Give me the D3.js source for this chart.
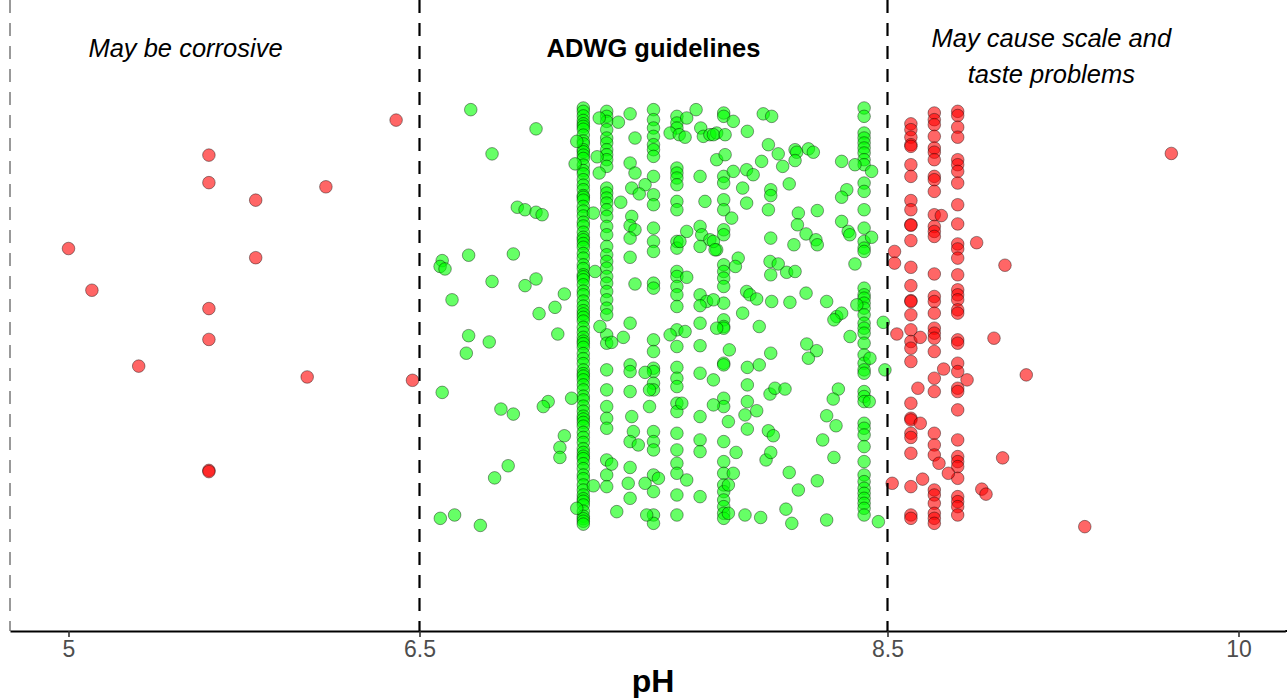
<!DOCTYPE html>
<html>
<head>
<meta charset="utf-8">
<script src="https://cdn.jsdelivr.net/npm/d3@7"></script>
<style>
  body { margin: 0; background: #fff; }
  text { font-family: "Liberation Sans", Arial, Helvetica, sans-serif; }
</style>
</head>
<body>
<script>
// pH readings that pile up on a few reported values (stacked columns)
const columnPH = [7.2, 7.3, 7.5, 7.6, 7.8, 8.4, 8.6, 8.7, 8.8];
// vertical jitter of every point in each column (0 = bottom of band, 100 = top)
const columnJitter = [
  [100, 99.2, 98.1, 97.0, 96.2, 95.6, 94.9, 93.5, 92.1, 91.4, 90.0, 89.5, 88.7, 87.9, 86.3, 85.0, 84.2, 82.8, 81.5, 80.4,
   79.0, 78.6, 77.9, 76.4, 75.3, 74.1, 72.6, 71.7, 70.2, 69.0, 68.4, 67.5, 66.6, 65.1, 64.0, 62.4, 61.5, 60.0, 59.5, 58.8,
   57.6, 56.1, 55.2, 53.7, 52.5, 51.4, 50.6, 49.8, 48.9, 47.4, 46.2, 45.0, 44.1, 43.5, 42.6, 41.1, 39.9, 38.7, 37.2, 36.3,
   35.7, 34.8, 33.6, 32.4, 30.9, 30.0, 28.5, 27.3, 26.1, 25.4, 24.6, 23.7, 22.2, 21.0, 19.8, 18.3, 17.4, 16.5, 15.9, 14.7,
   13.5, 12.0, 11.1, 9.6, 8.4, 7.2, 6.3, 5.7, 4.8, 3.3, 2.1, 1.5, 0.9, 0.2],
  [99.2, 98.0, 96.8, 94.8, 92.8, 91.6, 90.0, 88.8, 87.6, 86.0, 80.8, 79.6, 78.4, 77.2, 75.6, 74.0, 71.6, 69.6, 66.8, 64.8,
   63.2, 61.6, 59.6, 58.0, 56.0, 54.0, 52.0, 50.4, 45.6, 43.6, 37.2, 32.4, 28.4, 25.6, 23.2, 15.6, 12.0, 9.2],
  [99.6, 97.2, 95.2, 93.2, 91.2, 90.0, 88.4, 83.6, 79.2, 76.8, 71.2, 68.0, 65.6, 58.0, 56.8, 44.4, 41.6, 37.6, 36.8, 34.0,
   32.4, 22.4, 20.0, 18.0, 12.0, 8.0, 2.4, 0.4],
  [98.0, 96.4, 95.2, 85.6, 84.4, 83.2, 81.6, 77.6, 75.6, 68.0, 66.4, 60.8, 59.6, 57.2, 55.2, 52.4, 46.8, 42.8, 37.8, 35.2,
   33.2, 29.2, 27.2, 22.0, 18.0, 14.8, 12.4, 7.2, 2.4],
  [98.8, 98.0, 83.6, 82.0, 78.0, 75.6, 70.8, 69.6, 62.4, 60.8, 59.2, 57.2, 53.2, 49.2, 47.6, 47.2, 38.8, 38.4, 30.4, 28.4,
   20.0, 15.2, 12.4, 9.6, 8.0, 6.0, 4.4, 2.8, 1.6],
  [100, 98.0, 94.0, 92.8, 91.6, 90.4, 89.2, 87.6, 86.4, 82.0, 80.0, 75.6, 71.2, 68.0, 66.4, 65.6, 56.8, 55.2, 54.4, 53.2,
   52.0, 50.4, 48.4, 47.2, 46.0, 43.6, 40.8, 38.8, 37.2, 36.4, 32.0, 30.8, 29.6, 24.4, 23.2, 21.6, 18.8, 15.2, 12.0, 10.4,
   8.8, 7.6, 6.4, 5.2, 4.0, 2.4],
  [96.2, 94.8, 93.0, 91.2, 90.8, 86.4, 83.6, 77.8, 75.6, 72.0, 71.9, 68.2, 61.8, 57.4, 53.8, 53.6, 50.4, 46.8, 44.0, 42.4,
   39.2, 29.2, 25.6, 25.2, 22.0, 21.0, 17.2, 9.2, 2.4, 1.6],
  [98.8, 97.2, 96.0, 93.2, 90.4, 89.4, 87.6, 83.6, 82.8, 80.0, 74.4, 71.6, 70.4, 69.2, 60.2, 54.8, 53.6, 50.8, 47.2, 46.0,
   44.8, 41.6, 35.2, 32.0, 22.0, 19.2, 16.8, 8.4, 7.2, 5.2, 2.8, 1.6, 0.4],
  [99.2, 98.2, 95.4, 93.0, 87.6, 86.4, 84.8, 82.0, 76.8, 72.2, 67.4, 66.2, 64.0, 60.0, 56.4, 55.2, 54.0, 51.6, 50.8, 44.4,
   43.6, 38.8, 36.8, 32.8, 32.0, 27.6, 20.4, 16.4, 15.2, 14.0, 11.2, 6.8, 5.6, 4.4, 2.4]
];

// single readings below 6.5: [pH, jitter]
const scatterLow = [
  [6.40, 97.1], [5.6, 88.7], [5.6, 82.1], [6.1, 81.1], [5.8, 77.9], [5.0, 66.3], [5.8, 64.1], [5.1, 56.3],
  [5.6, 51.9], [5.6, 44.5], [5.3, 38.1], [6.02, 35.5], [6.47, 34.7], [5.6, 13.1], [5.6, 12.8]
];

// single readings inside 6.5 - 8.5
const scatterMid = [
  [6.719, 99.6], [6.998, 95.0], [6.810, 89.0], [6.918, 76.2], [6.951, 75.6], [6.998, 75.0], [7.024, 74.4], [6.597, 63.4],
  [6.588, 62.0], [6.609, 61.4], [6.710, 64.7], [6.901, 65.0], [6.810, 58.4], [6.951, 57.4], [6.998, 59.0], [6.639, 54.0],
  [7.119, 55.4], [7.079, 52.2], [7.011, 50.7], [7.172, 92.0], [7.165, 86.6], [6.710, 45.4], [6.798, 43.9], [6.700, 41.2],
  [7.091, 45.8], [6.597, 31.8], [6.848, 27.8], [6.901, 26.6], [7.050, 29.6], [7.029, 28.4], [7.150, 30.4], [7.119, 21.4],
  [7.100, 18.6], [7.100, 16.2], [6.879, 14.2], [6.821, 11.3], [6.589, 1.6], [6.650, 2.4], [6.760, -0.1], [7.172, 4.0],
  [7.400, 98.6], [7.350, 96.6], [7.268, 97.6], [7.421, 92.8], [7.259, 88.3], [7.268, 84.4], [7.400, 86.8], [7.421, 84.4],
  [7.464, 81.6], [7.407, 80.8], [7.439, 79.4], [7.360, 77.4], [7.243, 74.8], [7.407, 74.0], [7.400, 71.8], [7.421, 70.8],
  [7.400, 68.8], [7.400, 64.2], [7.250, 60.8], [7.421, 57.8], [7.571, 94.0], [7.610, 93.6], [7.635, 93.0], [7.642, 97.6],
  [7.682, 99.6], [7.702, 95.2], [7.713, 93.2], [7.741, 93.6], [7.770, 94.0], [7.699, 83.6], [7.720, 77.6], [7.642, 70.4],
  [7.699, 71.6], [7.706, 69.6], [7.741, 68.4], [7.770, 66.0], [7.699, 66.8], [7.613, 68.0], [7.642, 59.4], [7.699, 55.2],
  [7.727, 53.6], [7.699, 52.6], [7.770, 87.6], [7.400, 48.4], [7.371, 45.0], [7.321, 43.8], [7.271, 47.6], [7.400, 38.4],
  [7.400, 36.8], [7.464, 36.6], [7.483, 32.4], [7.483, 28.4], [7.400, 32.0], [7.407, 26.0], [7.414, 22.4], [7.400, 20.0],
  [7.435, 19.2], [7.571, 45.6], [7.635, 46.4], [7.621, 29.2], [7.642, 10.8], [7.699, 48.4], [7.699, 43.0], [7.699, 36.4],
  [7.756, 34.8], [7.699, 26.0], [7.756, 28.8], [7.699, 20.4], [7.699, 17.6], [7.699, 6.8], [7.770, 47.2], [7.243, 9.4],
  [7.400, 13.8], [7.392, 10.0], [7.400, 6.4], [7.343, 3.2], [7.464, 10.0], [7.471, 2.4], [7.521, 11.2], [7.321, 14.6],
  [7.841, 96.8], [7.756, 93.6], [7.806, 93.6], [7.901, 94.4], [7.969, 98.6], [8.005, 98.0], [7.806, 88.8], [7.962, 87.2],
  [7.991, 91.2], [8.033, 89.0], [8.105, 90.0], [8.112, 89.4], [8.162, 90.2], [8.183, 89.4], [8.052, 86.0], [8.105, 87.4],
  [7.841, 84.8], [7.898, 85.2], [7.926, 84.0], [7.881, 80.8], [7.898, 77.2], [8.001, 80.4], [8.001, 79.0], [8.080, 81.8],
  [7.991, 75.6], [7.834, 73.6], [8.119, 74.8], [8.115, 72.0], [8.200, 75.4], [8.152, 69.8], [8.194, 68.4], [8.200, 67.2],
  [8.001, 68.8], [8.100, 67.2], [7.756, 68.0], [7.763, 66.0], [7.862, 64.0], [7.850, 62.0], [7.998, 63.2], [8.033, 62.6],
  [8.001, 60.0], [8.069, 60.6], [8.105, 60.8], [8.152, 55.6], [8.240, 53.6], [7.898, 56.0], [7.912, 55.2], [7.941, 54.2],
  [8.005, 53.6], [8.083, 53.4], [7.881, 50.8], [7.756, 54.0], [8.304, 87.2], [8.361, 86.4], [8.326, 80.4], [8.304, 78.6],
  [8.304, 72.8], [8.332, 70.4], [8.339, 69.6], [8.361, 62.6], [8.432, 84.8], [8.432, 69.0], [8.369, 52.8], [8.283, 50.0],
  [8.304, 50.8], [7.952, 47.6], [7.824, 42.0], [7.901, 37.8], [7.952, 38.4], [8.001, 41.2], [7.901, 33.6], [7.998, 31.4],
  [8.019, 32.8], [8.062, 32.6], [7.901, 29.6], [7.891, 26.4], [7.941, 27.4], [7.820, 24.8], [7.901, 23.0], [7.991, 22.6],
  [8.012, 21.4], [7.853, 17.4], [7.981, 15.6], [8.001, 17.4], [7.841, 12.4], [7.820, 9.6], [8.080, 12.6], [8.119, 8.4],
  [8.066, 3.8], [8.091, 0.4], [7.891, 2.4], [7.958, 1.8], [7.820, 2.8], [8.155, 43.4], [8.197, 41.8], [8.162, 40.0],
  [8.290, 32.6], [8.268, 30.2], [8.240, 26.2], [8.280, 23.8], [8.223, 20.4], [8.271, 16.2], [8.200, 10.6], [8.240, 1.2],
  [8.271, 49.2], [8.340, 45.2], [8.482, 48.6], [8.489, 37.2], [8.461, 0.8], [8.425, 40.0], [8.422, 29.6]
];

// single readings above 8.5
const scatterHigh = [
  [9.713, 89.1], [9.002, 62.3], [8.955, 44.8], [9.093, 36.0], [8.992, 16.1], [8.903, 8.6], [8.921, 7.4], [9.343, -0.4],
  [8.881, 67.7], [8.54, 45.8], [8.64, 45.0], [8.63, 32.8], [8.64, 24.4], [8.52, 10.0], [8.65, 11.0], [8.74, 37.4],
  [8.84, 34.8], [8.76, 12.4], [8.72, 14.8], [8.53, 65.6], [8.53, 62.8], [8.73, 74.2]
];

const guidePH = [4.75, 6.5, 8.5];
const tickPH = [5, 6.5, 8.5, 10];
const zonePH = [5.5, 7.5, 9.2];
const zoneText = [["May be corrosive"], ["ADWG guidelines"], ["May cause scale and", "taste problems"]];
const zoneBold = [false, true, false];

const width = 1287, height = 698;
const axisY = 631;

const svg = d3.select("body").append("svg")
    .attr("width", width)
    .attr("height", height);

const x = d3.scaleLinear().domain([4.75, 10.2]).range([10, 1285.3]);
const y = d3.scaleLinear().domain([0, 100]).range([525, 108]);

// flatten everything into one list of points
const points = [];
columnPH.forEach((ph, i) => columnJitter[i].forEach(j => points.push({ ph: ph, j: j })));
scatterLow.concat(scatterMid, scatterHigh).forEach(d => points.push({ ph: d[0], j: d[1] }));

const inGuide = ph => ph >= 6.5 && ph <= 8.5;

svg.append("g")
  .selectAll("circle")
  .data(points)
  .enter().append("circle")
    .attr("cx", d => x(d.ph))
    .attr("cy", d => y(d.j))
    .attr("r", 6.3)
    .attr("fill", d => inGuide(d.ph) ? "#00ff00" : "#ff0000")
    .attr("fill-opacity", 0.6)
    .attr("stroke", "#000")
    .attr("stroke-opacity", 0.5)
    .attr("stroke-width", 0.8);

// dashed guide lines
svg.append("g")
  .selectAll("line")
  .data(guidePH)
  .enter().append("line")
    .attr("x1", d => x(d)).attr("x2", d => x(d))
    .attr("y1", 0).attr("y2", axisY)
    .attr("stroke", "#000")
    .attr("stroke-width", (d, i) => i === 0 ? 1 : 2.2)
    .attr("stroke-opacity", (d, i) => i === 0 ? 0.8 : 1)
    .attr("stroke-dasharray", "13,10");

// x axis
const xAxis = d3.axisBottom(x)
  .tickValues(tickPH)
  .tickFormat(d3.format(""))
  .tickSize(6)
  .tickSizeOuter(0)
  .tickPadding(4);

const ax = svg.append("g")
  .attr("transform", `translate(0,${axisY})`)
  .call(xAxis);
ax.select(".domain").attr("stroke", "#000").attr("stroke-width", 1.8);
ax.selectAll(".tick line").attr("stroke", "#333").attr("stroke-width", 1.6);
ax.selectAll(".tick text")
  .attr("fill", "#4d4d4d")
  .style("font-size", "23px")
  .style("font-family", "'Liberation Sans', Arial, sans-serif");

svg.append("line")
  .attr("x1", x(10.2)).attr("x2", width)
  .attr("y1", axisY).attr("y2", axisY)
  .attr("stroke", "#000").attr("stroke-width", 1.8);

svg.append("text")
  .attr("x", 653)
  .attr("y", 692)
  .attr("text-anchor", "middle")
  .style("font-size", "32px")
  .style("font-weight", "bold")
  .text("pH");

// zone notes at the top
zonePH.forEach((ph, i) => {
  const lines = zoneText[i];
  const t = svg.append("text")
    .attr("text-anchor", "middle")
    .style("font-size", zoneBold[i] ? "25.5px" : "25.5px")
    .style("font-style", zoneBold[i] ? "normal" : "italic")
    .style("font-weight", zoneBold[i] ? "bold" : "normal");
  lines.forEach((s, k) => {
    t.append("tspan")
      .attr("x", x(ph))
      .attr("y", lines.length === 1 ? 57 : 47 + k * 36)
      .text(s);
  });
});
</script>
</body>
</html>
